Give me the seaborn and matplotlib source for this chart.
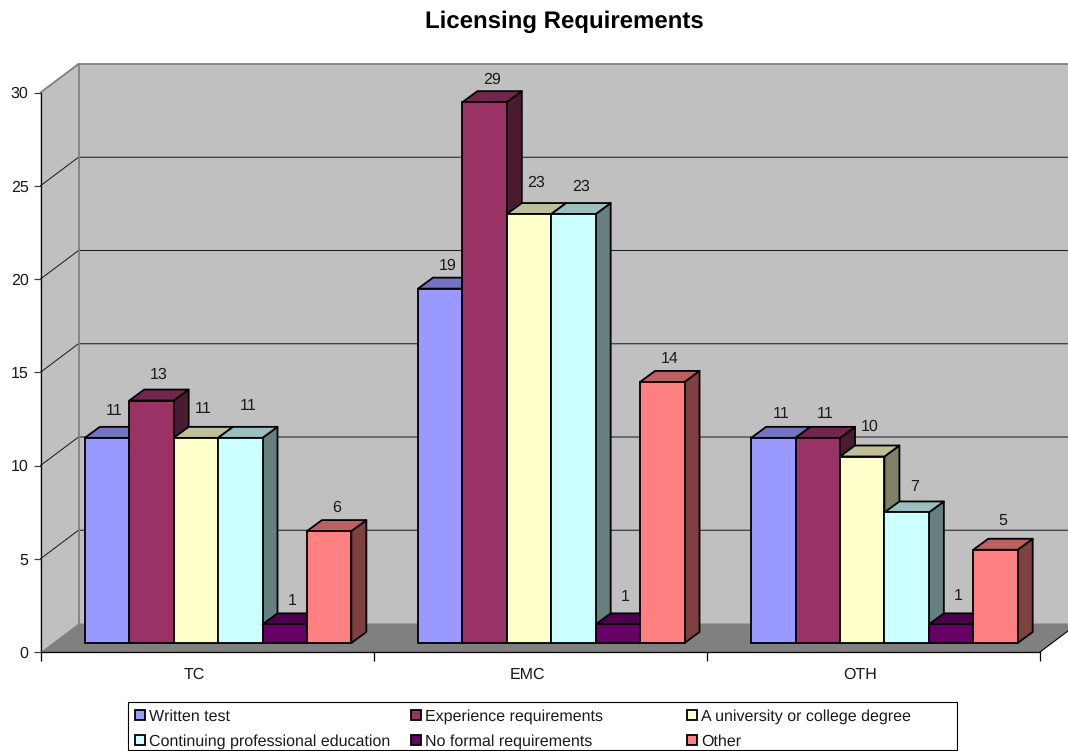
# Licensing Requirements - Excel style 3D clustered column chart
import numpy as np
import pandas as pd
import matplotlib
matplotlib.use('Agg')
import matplotlib.pyplot as plt
from matplotlib.colors import to_rgb
from matplotlib.patches import Polygon, Rectangle
from matplotlib.transforms import Affine2D, IdentityTransform
import seaborn as sns

# data
groups = ['TC', 'EMC', 'OTH']
series = ['Written test', 'Experience requirements', 'A university or college degree',
          'Continuing professional education', 'No formal requirements', 'Other']
written_test = [11, 19, 11]
experience = [13, 29, 11]
university = [11, 23, 10]
continuing = [11, 23, 7]
no_formal = [1, 1, 1]
other = [6, 14, 5]
colors = ['#9999FF', '#993366', '#FFFFCC', '#CCFFFF', '#660066', '#FF8080']
y_ticks = [0, 5, 10, 15, 20, 25, 30]

# how far above each bar the number sits, in pixels (group, then series)
label_lift = [[27, 26, 29, 32, 23, 23],
              [23, 22, 31, 27, 27, 23],
              [24, 24, 30, 26, 28, 29]]

W, H = 1068, 751
FONT = 11.4
EDGE = 1.3
sns.set_theme(style='white')
plt.rcParams['font.family'] = ['Liberation Sans', 'DejaVu Sans']
plt.rcParams['text.color'] = '#1a1a1a'
plt.rcParams['text.hinting'] = 'no_hinting'
plt.rcParams['text.hinting_factor'] = 1

rows = []
for name, vals in zip(series, [written_test, experience, university, continuing, no_formal, other]):
    for g, v in zip(groups, vals):
        rows.append({'group': g, 'series': name, 'value': v})
df = pd.DataFrame(rows)

fig = plt.figure(figsize=(W / 100, H / 100), dpi=100)
ax = fig.add_axes([40.5 / W, (H - 652) / H, 999.5 / W, 559.5 / H])
ax.patch.set_visible(False)

sns.barplot(data=df, x='group', y='value', hue='series', order=groups, hue_order=series,
            palette=colors, saturation=1, width=0.8, gap=0, edgecolor='black', linewidth=EDGE,
            legend=False, ax=ax)
ax.set_xlim(-0.5, 2.5)
ax.set_ylim(0, 30)
ax.set_xlabel('')
ax.set_ylabel('')
fig.canvas.draw()

px = IdentityTransform()
bar_shift = (11, 9)
bar_depth = (15, 11)
wall_shift = (38, 28.5)
front = ax.transData + Affine2D().translate(*bar_shift)


def to_px(x, y):
    return ax.transData.transform((x, y))


# walls and floor
x0, x1 = ax.get_xlim()
fl, fr = to_px(x0, 0), to_px(x1, 0)
tl = to_px(x0, 30)
bl, br = fl + wall_shift, fr + wall_shift
btl, btr = tl + wall_shift, to_px(x1, 30) + wall_shift
ax.add_patch(Polygon([bl, br, btr, btl], facecolor='#C0C0C0', edgecolor='none',
                     transform=px, clip_on=False, zorder=0.1))
ax.add_patch(Polygon([fl, bl, btl, tl], facecolor='#C0C0C0', edgecolor='none',
                     transform=px, clip_on=False, zorder=0.1))
ax.add_patch(Polygon([fl, fr, br, bl], facecolor='#808080', edgecolor='none',
                     transform=px, clip_on=False, zorder=0.2))

# gridlines run along the side wall and then the back wall
for t in y_ticks[1:-1]:
    p = to_px(x0, t)
    q = p + wall_shift
    r = to_px(x1, t) + wall_shift
    ax.plot([p[0], q[0], r[0]], [p[1], q[1], r[1]], color='#202020', lw=0.75,
            transform=px, clip_on=False, zorder=0.3)

# wall border
ax.plot([tl[0], btl[0], btr[0]], [tl[1], btl[1], btr[1]], color='#808080', lw=1.3,
        transform=px, clip_on=False, zorder=0.3)
ax.plot([bl[0], btl[0]], [bl[1], btl[1]], color='#808080', lw=1.3,
        transform=px, clip_on=False, zorder=0.3)
ax.plot([fr[0], br[0]], [fr[1], br[1]], color='black', lw=0.8,
        transform=px, clip_on=False, zorder=0.3)

# bars: front face from seaborn, top and side faces built on it, drawn left to right
bars = []
for s, container in enumerate(ax.containers):
    for g, bar in enumerate(container):
        bars.append((bar.get_x(), g, s, bar))
bars.sort(key=lambda b: b[0])

for k, (_, g, s, bar) in enumerate(bars):
    base = np.array(to_rgb(colors[s]))
    a = front.transform((bar.get_x(), bar.get_y()))
    b = front.transform((bar.get_x() + bar.get_width(), bar.get_y() + bar.get_height()))
    d = np.array(bar_depth)
    top = [(a[0], b[1]), (b[0], b[1]), (b[0] + d[0], b[1] + d[1]), (a[0] + d[0], b[1] + d[1])]
    side = [(b[0], a[1]), (b[0], b[1]), (b[0] + d[0], b[1] + d[1]), (b[0] + d[0], a[1] + d[1])]
    z = 1 + k
    ax.add_patch(Polygon(side, facecolor=base * 0.5, edgecolor='black', lw=EDGE, joinstyle='round',
                         transform=px, clip_on=False, zorder=z))
    ax.add_patch(Polygon(top, facecolor=base * 0.75, edgecolor='black', lw=EDGE, joinstyle='round',
                         transform=px, clip_on=False, zorder=z + 0.1))
    bar.set_transform(front)
    bar.set_clip_on(False)
    bar.set_zorder(z + 0.2)
    ax.text((a[0] + b[0] + d[0]) / 2, b[1] + label_lift[g][s], str(int(bar.get_height())),
            ha='center', va='center', fontsize=FONT, transform=px, zorder=100)

# axes
sns.despine(ax=ax, top=True, right=True)
for side_name in ['left', 'bottom']:
    ax.spines[side_name].set_color('black')
    ax.spines[side_name].set_linewidth(0.9)
    ax.spines[side_name].set_zorder(0.5)
ax.set_yticks(y_ticks)
ax.tick_params(axis='y', left=True, length=5, width=0.9, color='#404040', labelsize=FONT,
               pad=3.5, labelcolor='#1a1a1a')
ax.set_xticks(range(len(groups)))
ax.set_xticklabels(groups)
ax.tick_params(axis='x', which='major', bottom=False, length=0, labelsize=FONT, pad=11,
               labelcolor='#1a1a1a')
# category names sit left of the category centre in the reference
for label in ax.get_xticklabels():
    label.set_transform(label.get_transform() + Affine2D().translate(-13, 0))
ax.set_xticks(np.arange(-0.5, len(groups)), minor=True)
ax.tick_params(axis='x', which='minor', bottom=True, length=6.5, width=0.9, color='black')

fig.text(564.5 / W, 1 - 28 / H, 'Licensing Requirements', ha='center', va='baseline',
         fontsize=17.2, fontweight='bold', color='black')

# legend box, three even columns filled row by row
lg_left, lg_top, lg_right, lg_bottom = 128, 702, 957, 750
fig.add_artist(Rectangle((lg_left, H - lg_bottom), lg_right - lg_left, lg_bottom - lg_top,
                         facecolor='white', edgecolor='black', lw=0.8, transform=px))
for i, (name, col) in enumerate(zip(series, colors)):
    c, r = i % 3, i // 3
    hx = 134.5 + 276 * c
    cy = H - (715 + 25 * r)
    fig.add_artist(Rectangle((hx, cy - 5), 10, 10, facecolor=col, edgecolor='black', lw=EDGE,
                             transform=px))
    fig.text(hx + 14.5, cy - 6, name, ha='left', va='baseline', fontsize=FONT, color='#1a1a1a',
             transform=px)

fig.savefig('out.png', dpi=100)
